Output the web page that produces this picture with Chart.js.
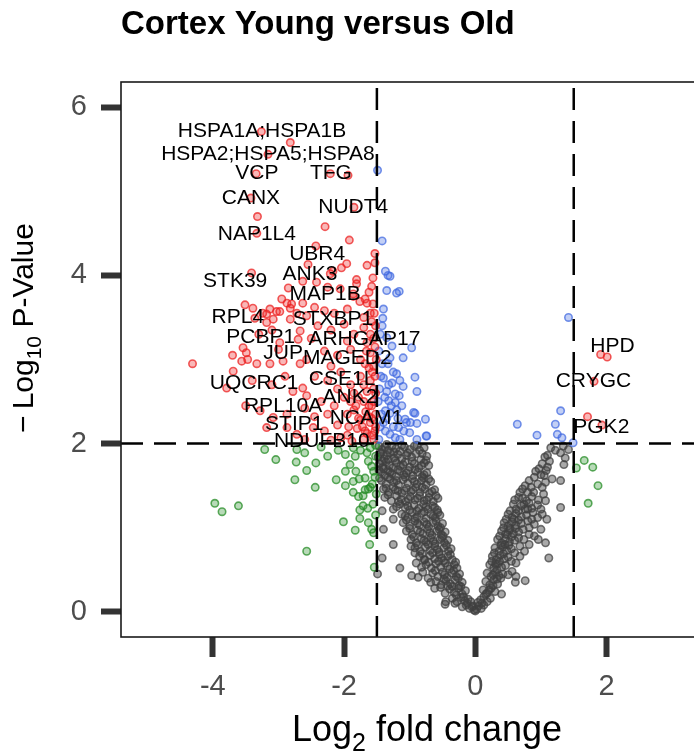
<!DOCTYPE html>
<html lang="en">
<head>
<meta charset="UTF-8">
<title>Cortex Young versus Old</title>
<script src="https://cdn.jsdelivr.net/npm/chart.js"></script>
<style>
  body { margin: 0; background: #fff; overflow: hidden; }
  .wrap { position: absolute; left: 0; top: 0; width: 704px; height: 753px; }
</style>
</head>
<body>
<div class="wrap"><canvas id="volcano" width="704" height="753"></canvas></div>
<script>
const FONT = '"Liberation Sans", Arial, sans-serif';

const xTicks = [-4, -2, 0, 2];
const yTicks = [0, 2, 4, 6];
const fcCut = 1.5;   // |log2 fold change| threshold
const pCut = 2;      // -log10 p threshold

// red: past both thresholds
const bothSig = [
  [-3.26,5.71],[-2.82,5.58],[-3.16,5.44],[-3.34,5.21],[-2.21,5.21],[-1.94,5.19],[-3.42,4.92],[-3.32,4.70],
  [-1.85,4.81],[-2.29,4.58],[-3.33,4.50],[-1.92,4.42],[-2.43,4.35],[-1.53,4.26],[-1.96,4.14],[-1.65,4.12],
  [-2.55,4.13],[-2.17,4.05],[-1.81,3.95],[-1.56,3.97],[-3.41,4.03],[-1.53,4.15],[-2.04,4.09],[-2.21,4.02],
  [-2.63,3.93],[-2.42,3.92],[-1.58,3.87],[-1.81,3.90],[-2.06,3.84],[-2.25,3.86],[-2.85,3.85],[-1.62,3.80],
  [-3.51,3.65],[-3.39,3.61],[-2.95,3.72],[-2.80,3.66],[-2.63,3.67],[-1.76,3.69],[-1.65,3.67],[-1.56,3.66],
  [-1.86,3.78],[-2.98,3.57],[-3.18,3.54],[-3.08,3.48],[-2.87,3.67],[-3.13,3.60],[-3.03,3.57],[-3.24,3.55],
  [-3.36,3.49],[-3.18,3.44],[-2.82,3.61],[-2.72,3.55],[-2.57,3.52],[-2.82,3.48],[-1.68,3.72],[-1.86,3.75],
  [-2.45,3.62],[-2.30,3.58],[-2.15,3.55],[-1.95,3.60],[-1.60,3.55],[-1.70,3.50],
  [-2.67,3.34],[-2.70,3.24],[-2.98,3.20],[-2.40,3.40],[-2.20,3.35],[-2.00,3.42],[-1.85,3.30],[-1.70,3.38],
  [-1.58,3.45],[-1.55,3.25],[-2.50,3.25],[-3.30,3.30],[-3.10,3.35],[-1.65,3.20],[-1.95,3.22],
  [-3.54,3.14],[-3.49,3.08],[-3.47,3.00],[-3.56,2.98],[-3.33,2.95],[-3.13,2.95],[-2.93,2.98],[-2.57,3.00],
  [-2.67,2.95],[-4.31,2.95],[-2.30,3.10],[-2.10,3.05],[-1.90,3.12],[-1.75,3.00],[-1.60,3.08],[-1.55,2.92],
  [-1.68,2.95],[-2.20,2.92],[-3.00,3.12],[-3.70,3.05],
  [-3.69,2.86],[-3.79,2.66],[-2.63,2.66],[-2.78,2.62],[-2.45,2.80],[-2.25,2.75],[-2.05,2.85],[-1.90,2.70],
  [-1.75,2.80],[-1.60,2.75],[-1.55,2.65],[-1.65,2.62],[-1.85,2.60],[-2.10,2.65],[-2.90,2.80],[-3.10,2.70],
  [-3.40,2.75],
  [-2.57,2.57],[-3.28,2.39],[-3.08,2.31],[-2.87,2.35],[-2.60,2.42],[-2.35,2.50],[-2.15,2.45],[-2.00,2.55],
  [-1.85,2.40],[-1.70,2.50],[-1.58,2.45],[-1.52,2.35],[-1.62,2.32],[-1.78,2.30],[-1.95,2.35],[-2.25,2.35],
  [-2.45,2.32],[-3.50,2.45],
  [-3.18,2.19],[-2.87,2.19],[-2.72,2.11],[-2.47,2.19],[-2.30,2.15],[-2.10,2.22],[-1.95,2.10],[-1.80,2.18],
  [-1.65,2.12],[-1.55,2.05],[-1.52,2.20],[-1.60,2.25],[-1.70,2.05],[-1.88,2.03],[-2.05,2.07],[-2.20,2.04],
  [-2.60,2.05],[-1.75,2.28],
  [-1.52,2.60],[-1.55,2.50],[-1.58,2.30],[-1.53,2.15],[-1.57,2.10],[-1.62,2.45],[-1.67,2.38],[-1.72,2.20],
  [-1.53,2.80],[-1.57,2.85],[-1.62,2.90],[-1.51,3.00],[-1.53,3.15],[-1.60,3.30],[-1.52,3.40],[-1.54,3.55],
  [-1.66,3.10],[-1.70,2.70],[-1.78,2.55],[-1.82,2.45],[-1.90,2.50],[-1.93,2.20],[-1.68,2.15],
  [1.91,3.06],[2.01,3.03],[1.81,2.74],[1.71,2.32],[1.93,2.22]
];

// blue: p-value only
const pOnly = [
  [-1.49,5.25],[-1.42,4.41],[-1.37,4.05],[-1.33,4.00],[-1.30,3.99],[-1.35,3.82],[-1.20,3.79],[-1.16,3.81],
  [-1.41,3.49],[-1.42,3.40],[-1.35,3.26],[-0.97,3.14],[-1.27,3.16],[-1.10,3.02],[-1.30,3.02],[-1.20,2.83],
  [-0.92,2.79],[-1.40,2.78],[-1.27,2.72],[-1.10,2.68],[-0.89,2.62],[-1.35,2.62],[-1.22,2.59],[-1.16,2.57],
  [-1.32,2.51],[-1.22,2.49],[-1.12,2.45],[-0.94,2.37],[-1.37,2.39],[-1.30,2.36],[-0.76,2.29],[-1.07,2.29],
  [-0.99,2.25],[-0.89,2.24],[-1.17,2.19],[-1.09,2.15],[-1.00,2.13],[-0.75,2.09],[-1.37,2.15],[-1.30,2.11],
  [-1.22,2.07],[-0.89,2.05],[-0.74,2.09],[-0.92,2.36],
  [-1.47,2.05],[-1.45,2.20],[-1.43,2.35],[-1.48,2.50],[-1.46,2.65],[-1.44,2.80],[-1.42,2.95],[-1.47,3.10],
  [-1.40,2.25],[-1.35,2.30],[-1.28,2.45],[-1.25,2.20],[-1.18,2.30],[-1.15,2.05],[-1.05,2.25],[-1.38,2.55],
  [-1.32,2.70],[-1.25,2.85],[-1.15,2.75],[-1.45,3.30],[-1.40,3.60],[-1.33,2.95],[-1.20,2.40],
  [1.42,3.50],[1.30,2.39],[0.64,2.23],[0.94,2.10],[1.22,2.23],[1.25,2.11],[1.32,2.07],[1.49,2.01]
];

// green: fold change only
const fcOnly = [
  [-3.97,1.29],[-3.86,1.19],[-3.61,1.26],[-2.57,0.72],[-3.21,1.93],[-3.04,1.81],[-2.73,1.78],[-2.57,1.68],
  [-2.43,1.77],[-2.75,1.57],[-2.44,1.48],[-2.12,1.57],[-1.98,1.67],[-1.91,1.75],[-1.98,1.87],[-1.83,1.85],
  [-1.75,1.92],[-1.65,1.89],[-2.60,1.89],[-2.72,1.93],[-2.09,1.92],[-1.82,1.67],[-1.98,1.50],[-1.86,1.55],
  [-1.77,1.58],[-1.68,1.59],[-1.60,1.48],[-1.86,1.42],[-1.78,1.37],[-1.71,1.38],[-1.68,1.45],[-1.63,1.46],
  [-1.71,1.26],[-1.64,1.23],[-1.56,1.28],[-1.76,1.21],[-1.76,1.11],[-1.63,1.06],[-2.01,1.07],[-1.83,0.97],
  [-1.58,0.98],[-1.55,0.94],[-1.61,0.80],[-1.54,0.53],[-1.63,1.79],[-1.58,1.73],[-1.55,1.67],[-1.60,1.95],
  [-1.86,1.95],[-1.52,1.85],[-1.53,1.60],[-1.51,1.40],[-1.52,1.15],[-1.57,1.52],[-1.52,1.98],[-2.35,1.96],
  [-2.25,1.85],
  [1.66,1.80],[1.79,1.72],[1.87,1.50],[1.72,1.29],[1.54,1.71]
];

// grey: neither
const neither = [
  [-1.47,1.97],[-1.42,1.93],[-1.38,1.96],[-1.33,1.92],[-1.27,1.97],[-1.21,1.94],[-1.15,1.91],[-1.08,1.96],
  [-1.00,1.93],[-0.93,1.97],[-0.85,1.92],[-0.78,1.95],
  [-1.48,1.84],[-1.44,1.88],[-1.39,1.82],[-1.35,1.86],[-1.30,1.89],[-1.24,1.83],[-1.18,1.87],[-1.12,1.82],
  [-1.05,1.86],[-0.97,1.84],[-0.90,1.88],[-0.83,1.81],[-0.74,1.85],
  [-1.46,1.76],[-1.41,1.72],[-1.36,1.78],[-1.31,1.74],[-1.26,1.71],[-1.20,1.77],[-1.14,1.73],[-1.07,1.78],
  [-1.00,1.72],[-0.93,1.76],[-0.86,1.71],[-0.78,1.77],[-0.71,1.74],
  [-1.44,1.66],[-1.38,1.62],[-1.33,1.68],[-1.27,1.64],[-1.21,1.61],[-1.15,1.67],[-1.09,1.63],[-1.02,1.68],
  [-0.95,1.62],[-0.88,1.66],[-0.81,1.61],[-0.74,1.65],
  [-1.43,1.56],[-1.36,1.52],[-1.30,1.58],[-1.24,1.54],[-1.17,1.51],[-1.10,1.57],[-1.03,1.53],[-0.96,1.58],
  [-0.89,1.52],[-0.82,1.56],[-0.75,1.51],[-0.68,1.55],
  [-1.40,1.46],[-1.32,1.42],[-1.25,1.48],[-1.18,1.44],[-1.12,1.41],[-1.05,1.47],[-0.98,1.43],[-0.91,1.48],
  [-0.84,1.42],[-0.77,1.46],[-0.70,1.41],[-0.62,1.45],
  [-1.38,1.36],[-1.28,1.32],[-1.20,1.38],[-1.13,1.34],[-1.06,1.31],[-0.99,1.37],[-0.92,1.33],[-0.85,1.38],
  [-0.78,1.32],[-0.71,1.36],[-0.64,1.31],[-0.57,1.35],
  [-1.42,1.20],[-1.25,1.22],[-1.15,1.28],[-1.07,1.24],[-1.00,1.21],[-0.93,1.27],[-0.86,1.23],[-0.79,1.28],
  [-0.72,1.22],[-0.65,1.26],[-0.58,1.21],
  [-1.25,1.10],[-1.12,1.16],[-1.03,1.12],[-0.96,1.18],[-0.89,1.13],[-0.82,1.17],[-0.75,1.11],[-0.68,1.16],
  [-0.61,1.12],[-0.54,1.15],
  [-1.40,0.98],[-1.10,1.06],[-1.00,1.02],[-0.92,1.08],[-0.85,1.03],[-0.78,1.07],[-0.71,1.01],[-0.64,1.06],
  [-0.57,1.02],[-0.50,1.05],
  [-1.05,0.96],[-0.96,0.92],[-0.88,0.97],[-0.80,0.93],[-0.73,0.98],[-0.66,0.91],[-0.59,0.96],[-0.52,0.92],
  [-0.46,0.95],
  [-1.25,0.80],[-0.98,0.86],[-0.90,0.82],[-0.82,0.87],[-0.75,0.83],[-0.68,0.88],[-0.61,0.81],[-0.54,0.86],
  [-0.47,0.82],[-0.42,0.85],
  [-0.92,0.76],[-0.84,0.72],[-0.76,0.77],[-0.69,0.73],[-0.62,0.78],[-0.55,0.71],[-0.48,0.76],[-0.41,0.72],
  [-0.37,0.75],
  [-1.42,0.64],[-0.85,0.66],[-0.77,0.62],[-0.69,0.67],[-0.62,0.63],[-0.55,0.68],[-0.48,0.61],[-0.42,0.66],
  [-0.35,0.62],
  [-1.15,0.52],[-0.75,0.56],[-0.67,0.52],[-0.60,0.57],[-0.53,0.53],[-0.46,0.58],[-0.39,0.51],[-0.32,0.56],
  [-0.28,0.52],
  [-1.49,0.45],[-0.97,0.43],[-0.87,0.41],[-0.65,0.46],[-0.57,0.42],[-0.50,0.47],[-0.43,0.41],[-0.36,0.46],
  [-0.29,0.42],[-0.24,0.45],
  [-0.60,0.36],[-0.52,0.32],[-0.45,0.37],[-0.38,0.33],[-0.31,0.38],[-0.25,0.31],[-0.20,0.35],
  [-0.53,0.29],[-0.46,0.22],[-0.39,0.27],[-0.32,0.23],[-0.26,0.28],[-0.20,0.21],[-0.15,0.25],
  [-0.45,0.12],[-0.35,0.16],[-0.28,0.12],[-0.22,0.17],[-0.16,0.13],[-0.11,0.15],
  [-0.46,0.09],[-0.20,0.06],[-0.14,0.08],[-0.09,0.04],[-0.05,0.06],[-0.02,0.02],
  [-1.45,1.90],[-1.35,1.99],[-1.24,1.90],[-1.12,1.98],[-1.03,1.89],[-0.89,1.98],[-0.81,1.88],
  [-1.42,1.79],[-1.33,1.81],[-1.22,1.80],[-1.10,1.75],[-0.96,1.79],[-0.82,1.74],[-0.75,1.80],
  [-1.47,1.69],[-1.40,1.70],[-1.30,1.66],[-1.18,1.69],[-1.05,1.65],[-0.92,1.69],[-0.78,1.63],
  [-1.46,1.59],[-1.33,1.60],[-1.20,1.56],[-1.07,1.60],[-0.93,1.55],[-0.79,1.59],[-0.71,1.58],
  [-1.36,1.47],[-1.22,1.45],[-1.08,1.44],[-0.95,1.45],[-0.81,1.48],[-0.66,1.43],
  [-1.33,1.39],[-1.17,1.31],[-1.02,1.34],[-0.88,1.35],[-0.74,1.33],[-0.60,1.38],
  [-1.20,1.25],[-1.03,1.26],[-0.89,1.20],[-0.75,1.25],[-0.62,1.24],
  [-1.07,1.14],[-0.92,1.11],[-0.78,1.19],[-0.64,1.14],[-0.57,1.18],
  [-1.05,1.09],[-0.88,1.05],[-0.74,1.04],[-0.60,1.08],[-0.53,1.00],
  [-1.00,0.99],[-0.84,0.95],[-0.69,0.94],[-0.55,0.98],[-0.49,0.90],
  [-0.94,0.89],[-0.78,0.85],[-0.64,0.84],[-0.51,0.88],
  [-0.88,0.79],[-0.72,0.80],[-0.58,0.74],[-0.44,0.79],[-0.98,0.78],[-0.92,0.70],
  [-0.81,0.69],[-0.65,0.70],[-0.51,0.64],[-0.38,0.68],[-0.78,0.62],
  [-0.71,0.59],[-0.56,0.60],[-0.42,0.54],[-0.30,0.59],[-0.90,0.58],[-0.82,0.53],
  [-0.61,0.49],[-0.47,0.44],[-0.33,0.49],[-0.26,0.40],[-0.80,0.47],[-0.72,0.40],
  [-0.48,0.39],[-0.35,0.30],[-0.22,0.30],[-0.68,0.35],[-0.62,0.28],
  [-0.42,0.31],[-0.29,0.20],[-0.18,0.18],
  [-0.31,0.10],[-0.12,0.10],[-0.07,0.12],[-0.03,0.07],[0.00,0.01],
  [0.02,0.03],[0.05,0.07],[0.09,0.04],[0.13,0.08],
  [0.08,0.14],[0.13,0.18],[0.18,0.12],[0.23,0.16],
  [0.12,0.26],[0.18,0.22],[0.24,0.28],[0.30,0.24],[0.40,0.21],
  [0.16,0.36],[0.22,0.32],[0.28,0.38],[0.34,0.33],[0.61,0.35],[0.76,0.37],
  [0.18,0.46],[0.24,0.42],[0.30,0.47],[0.36,0.43],[0.42,0.45],
  [0.22,0.56],[0.28,0.52],[0.34,0.57],[0.40,0.53],[0.46,0.55],
  [0.26,0.66],[0.32,0.62],[0.38,0.67],[0.44,0.63],[0.50,0.65],[1.12,0.64],
  [0.30,0.76],[0.36,0.72],[0.42,0.77],[0.48,0.73],[0.55,0.75],
  [0.34,0.86],[0.40,0.82],[0.46,0.87],[0.52,0.83],[0.60,0.85],[1.07,0.82],
  [0.40,0.96],[0.46,0.92],[0.52,0.97],[0.58,0.93],[0.66,0.95],
  [0.44,1.06],[0.50,1.02],[0.56,1.07],[0.62,1.03],[0.70,1.05],[0.80,1.08],
  [0.50,1.16],[0.56,1.12],[0.62,1.17],[0.70,1.13],[0.78,1.15],[0.88,1.18],[1.09,1.10],
  [0.58,1.28],[0.74,1.28],[0.62,1.22],[0.70,1.26],[0.86,1.23],[0.95,1.27],[1.30,1.24],
  [0.66,1.36],[0.78,1.32],[0.86,1.37],[0.96,1.33],[1.07,1.32],
  [0.72,1.46],[0.80,1.42],[0.89,1.42],[1.04,1.40],[1.02,1.48],
  [0.82,1.56],[0.95,1.52],[1.07,1.54],[1.17,1.58],[1.30,1.56],
  [0.92,1.67],[1.00,1.63],[1.08,1.68],
  [1.02,1.76],[1.10,1.72],[1.35,1.75],
  [1.10,1.86],[1.30,1.89],[1.37,1.83],
  [1.15,1.95],[1.42,1.93],
  [0.04,0.11],[0.10,0.10],[0.16,0.21],[0.21,0.26],[0.27,0.31],[0.33,0.39],[0.39,0.40],[0.27,0.44],
  [0.33,0.50],[0.25,0.60],[0.31,0.57],[0.37,0.60],[0.43,0.69],[0.29,0.70],[0.39,0.79],[0.45,0.80],
  [0.51,0.79],[0.37,0.90],[0.49,0.92],[0.55,0.89],[0.43,1.00],[0.53,0.99],[0.61,0.99],[0.47,1.10],
  [0.59,1.10],[0.66,1.09],[0.53,1.20],[0.66,1.20],[0.76,1.22],[0.60,1.33],[0.72,1.35],[0.82,1.29],
  [0.68,1.42],[0.76,1.50],[0.85,1.48],[0.90,1.60],[0.97,1.70],[1.05,1.62],[1.13,1.79],[1.06,1.84],
  [1.22,1.92],[1.34,1.97],
  [0.50,0.44],[0.56,0.48],[0.62,0.42],[0.55,0.60],[0.62,0.58],[0.68,0.66],[0.60,0.70],[0.68,0.78],
  [0.75,0.72],[0.82,0.80],[0.66,0.88],[0.74,0.86],[0.82,0.92],[0.90,0.90],[0.96,0.86],[0.73,0.98],
  [0.82,1.00],[0.90,1.04],[1.00,0.98],[0.86,1.10],[0.95,1.12],[1.02,1.16],[0.80,1.22],[1.00,1.22]
];

// gene labels: text, label centre (log2 FC, -log10 p)
const geneLabels = [
  ['HSPA1A;HSPA1B', -3.25, 5.71], ['HSPA2;HSPA5;HSPA8', -3.16, 5.44], ['VCP', -3.33, 5.21],
  ['TFG', -2.20, 5.21], ['CANX', -3.42, 4.92], ['NUDT4', -1.86, 4.81], ['NAP1L4', -3.33, 4.49],
  ['UBR4', -2.41, 4.25], ['ANK3', -2.52, 4.01], ['STK39', -3.66, 3.93], ['MAP1B', -2.29, 3.78],
  ['RPL4', -3.62, 3.50], ['STXBP1', -2.17, 3.48], ['PCBP1', -3.27, 3.27], ['ARHGAP17', -1.69, 3.24],
  ['JUP', -2.93, 3.08], ['MAGED2', -1.95, 3.02], ['UQCRC1', -3.37, 2.72], ['CSE1L', -2.03, 2.77],
  ['ANK2', -1.91, 2.55], ['RPL10A', -2.93, 2.45], ['NCAM1', -1.66, 2.30], ['STIP1', -2.76, 2.23],
  ['NDUFB10', -2.34, 2.03], ['HPD', 2.09, 3.16], ['CRYGC', 1.80, 2.74], ['PGK2', 1.92, 2.20]
];

function makeSet(label, pts, rgb, fill) {
  return {
    label: label,
    data: pts.map(([x, y]) => ({ x, y })),
    backgroundColor: 'rgba(' + rgb + ',' + fill + ')',
    borderColor: 'rgba(' + rgb + ',0.72)',
    pointRadius: 3.7,
    pointBorderWidth: 1.6
  };
}

// draws text pieces, subscript pieces smaller and lowered, centred on (0,0)
function drawSubText(ctx, parts, size) {
  const subSize = Math.round(size * 0.7);
  let total = 0;
  const widths = parts.map(([t, sub]) => {
    ctx.font = (sub ? subSize : size) + 'px ' + FONT;
    const w = ctx.measureText(t).width;
    total += w;
    return w;
  });
  let x = -total / 2;
  parts.forEach(([t, sub], i) => {
    ctx.font = (sub ? subSize : size) + 'px ' + FONT;
    ctx.fillText(t, x, sub ? size * 0.28 : 0);
    x += widths[i];
  });
}

const volcanoDecor = {
  id: 'volcanoDecor',
  afterDatasetsDraw(chart) {
    const { ctx, chartArea: a, scales: { x, y } } = chart;
    ctx.save();
    // cut-off lines
    ctx.setLineDash([22, 11]);
    ctx.lineWidth = 2.5;
    ctx.strokeStyle = '#000';
    ctx.beginPath();
    [-fcCut, fcCut].forEach(v => {
      const px = x.getPixelForValue(v);
      ctx.moveTo(px, a.top + 6);
      ctx.lineTo(px, a.bottom);
    });
    const py = y.getPixelForValue(pCut);
    ctx.moveTo(a.left, py);
    ctx.lineTo(a.right, py);
    ctx.stroke();
    ctx.setLineDash([]);

    // gene names
    ctx.fillStyle = '#000';
    ctx.font = '21px ' + FONT;
    ctx.textAlign = 'center';
    ctx.textBaseline = 'middle';
    geneLabels.forEach(([name, lx, ly]) => {
      ctx.fillText(name, x.getPixelForValue(lx), y.getPixelForValue(ly));
    });

    // panel frame
    ctx.lineWidth = 1.6;
    ctx.strokeStyle = '#1a1a1a';
    ctx.strokeRect(a.left, a.top, a.right - a.left, a.bottom - a.top);
    ctx.restore();
  },
  afterDraw(chart) {
    const { ctx } = chart;
    ctx.save();
    ctx.fillStyle = '#000';
    ctx.textBaseline = 'alphabetic';
    ctx.textAlign = 'left';
    ctx.translate(427, 741);
    drawSubText(ctx, [['Log', false], ['2', true], [' fold change', false]], 36);
    ctx.restore();

    ctx.save();
    ctx.fillStyle = '#000';
    ctx.textBaseline = 'alphabetic';
    ctx.textAlign = 'left';
    ctx.translate(33, 328);
    ctx.rotate(-Math.PI / 2);
    drawSubText(ctx, [['\u2212\u2009Log', false], ['10', true], [' P-Value', false]], 30);
    ctx.restore();
  }
};

const tickGrid = {
  display: true,
  drawOnChartArea: false,
  drawTicks: true,
  tickLength: 20,
  tickWidth: 6,
  tickColor: '#333'
};
const tickFont = { family: FONT, size: 29 };

new Chart(document.getElementById('volcano'), {
  type: 'scatter',
  data: {
    datasets: [
      makeSet('p < 0.01 and |log2FC| > 1.5', bothSig, '235,30,30', 0.32),
      makeSet('p < 0.01', pOnly, '65,105,225', 0.32),
      makeSet('|log2FC| > 1.5', fcOnly, '34,139,34', 0.32),
      makeSet('NS', neither, '64,64,64', 0.45)
    ]
  },
  options: {
    responsive: false,
    animation: false,
    events: [],
    layout: { padding: 0 },
    plugins: {
      legend: { display: false },
      tooltip: { enabled: false },
      title: {
        display: true,
        text: 'Cortex Young versus Old',
        align: 'start',
        fullSize: false,
        color: '#000',
        font: { family: FONT, size: 33, weight: 'bold', lineHeight: 1.2 },
        padding: { top: 5, bottom: 37.4 }
      }
    },
    scales: {
      x: {
        type: 'linear',
        min: -5.4,
        max: 3.4,
        afterBuildTicks: s => { s.ticks = xTicks.map(v => ({ value: v })); },
        afterFit: s => { s.height = 116; },
        grid: tickGrid,
        border: { display: false },
        ticks: { font: tickFont, color: '#4d4d4d', padding: 13, maxRotation: 0, callback: v => String(v) }
      },
      y: {
        type: 'linear',
        min: -0.3,
        max: 6.3,
        afterBuildTicks: s => { s.ticks = yTicks.map(v => ({ value: v })); },
        afterFit: s => { s.width = 121; },
        grid: tickGrid,
        border: { display: false },
        ticks: { font: tickFont, color: '#4d4d4d', padding: 14, callback: v => String(v) }
      }
    }
  },
  plugins: [volcanoDecor]
});
</script>
</body>
</html>
